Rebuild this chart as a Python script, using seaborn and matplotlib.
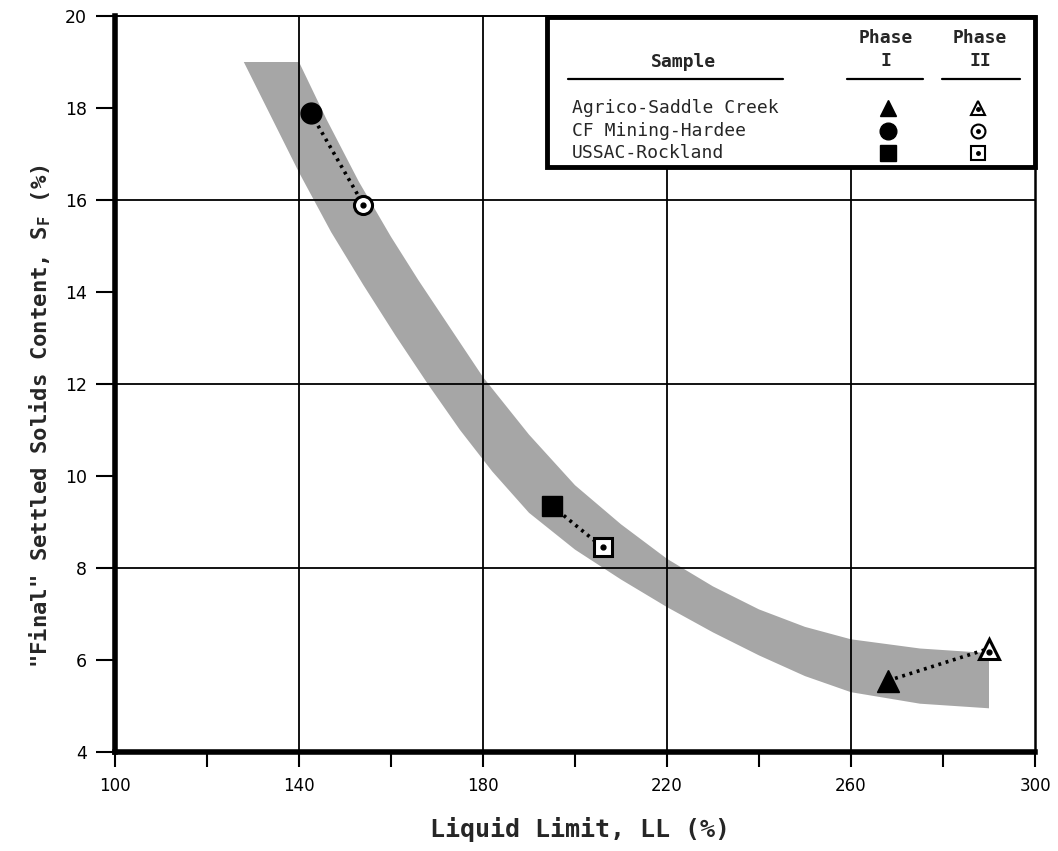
import numpy as np
import pandas as pd
import matplotlib
matplotlib.use("Agg")
import matplotlib.pyplot as plt
import seaborn as sns
from matplotlib.patches import Rectangle, Polygon

# ---------------- data ----------------
samples = ["Agrico-Saddle Creek", "CF Mining-Hardee", "USSAC-Rockland"]
ll_phase1 = [268.0, 142.5, 195.0]
sf_phase1 = [5.55, 17.9, 9.35]
ll_phase2 = [290.0, 154.0, 206.0]
sf_phase2 = [6.25, 15.9, 8.45]
sample_markers = ["^", "o", "s"]

# shaded trend band (lower/left edge and upper/right edge)
band_lower_ll = [128, 134, 140, 147, 154, 161, 168, 175, 182, 190, 200, 210, 220, 230, 240, 250, 260, 275, 290]
band_lower_sf = [19.0, 17.8, 16.6, 15.3, 14.15, 13.05, 12.0, 11.0, 10.1, 9.2, 8.4, 7.75, 7.15, 6.6, 6.1, 5.65, 5.3, 5.05, 4.95]
band_upper_ll = [140, 146, 153, 160, 166, 173, 180, 190, 200, 210, 220, 230, 240, 250, 260, 275, 290]
band_upper_sf = [19.0, 17.75, 16.4, 15.2, 14.25, 13.2, 12.15, 10.9, 9.8, 8.95, 8.2, 7.6, 7.1, 6.72, 6.45, 6.25, 6.15]

x_major = [100, 140, 180, 220, 260, 300]
x_minor = [120, 160, 200, 240, 280]
y_ticks = [4, 6, 8, 10, 12, 14, 16, 18, 20]
x_grid = [140, 180, 220, 260]
y_grid = [8, 12, 16]

df = pd.DataFrame({
    "sample": samples * 2,
    "phase": ["I"] * 3 + ["II"] * 3,
    "LL": ll_phase1 + ll_phase2,
    "SF": sf_phase1 + sf_phase2,
})

# ---------------- style ----------------
sns.set_theme(style="white")
plt.rcParams["font.family"] = ["DejaVu Sans"]
plt.rcParams["mathtext.fontset"] = "custom"
plt.rcParams["mathtext.rm"] = "DejaVu Sans Mono:bold"
plt.rcParams["mathtext.bf"] = "DejaVu Sans Mono:bold"
plt.rcParams["mathtext.it"] = "DejaVu Sans Mono:bold"

W, H = 1058, 851
fig = plt.figure(figsize=(W / 100, H / 100), dpi=100)
fig.patch.set_facecolor("white")
L, R, T, B = 115, 1035, 16, 752
ax = fig.add_axes([L / W, 1 - B / H, (R - L) / W, (B - T) / H])
ax.set_facecolor("white")

# band
verts = list(zip(band_lower_ll, band_lower_sf)) + list(zip(band_upper_ll[::-1], band_upper_sf[::-1]))
ax.add_patch(Polygon(verts, closed=True, facecolor="#a6a6a6", edgecolor="none", zorder=1))

# grid
for v in x_grid:
    ax.axvline(v, color="black", lw=1.3, zorder=2)
for h in y_grid:
    ax.axhline(h, color="black", lw=1.3, zorder=2)

# connectors
sns.lineplot(data=df, x="LL", y="SF", units="sample", estimator=None, sort=False,
             color="black", lw=2.6, linestyle=(0, (0.8, 1.3)), legend=False, ax=ax, zorder=3)

# markers
for i in range(len(samples)):
    m = sample_markers[i]
    ms = 16 if m == "^" else 15
    ax.plot(ll_phase1[i], sf_phase1[i], marker=m, ms=ms, color="black", ls="none", zorder=5)
    ax.plot(ll_phase2[i], sf_phase2[i], marker=m, ms=ms - 2, mfc="white", mec="black", mew=2.2,
            ls="none", zorder=5)
    ax.plot(ll_phase2[i], sf_phase2[i] - (0.08 if m == "^" else 0), marker="o", ms=3.5,
            color="black", ls="none", zorder=6)

ax.set_xlim(100, 300)
ax.set_ylim(4, 20)
ax.set_xticks(x_major)
ax.set_xticks(x_minor, minor=True)
ax.set_yticks(y_ticks)
ax.set_xticklabels([str(v) for v in x_major])
ax.set_yticklabels([str(v) for v in y_ticks])
ax.tick_params(axis="x", which="both", direction="out", length=11, width=1.5, color="black",
               bottom=True, labelsize=12, pad=7, labelcolor="black")
ax.tick_params(axis="y", which="both", direction="out", length=14, width=1.5, color="black",
               left=True, labelsize=12.5, pad=6, labelcolor="black")
ax.set_xlabel("")
ax.set_ylabel("")

for s, lw in [("left", 4.0), ("bottom", 4.0), ("top", 1.4), ("right", 1.8)]:
    ax.spines[s].set_visible(True)
    ax.spines[s].set_color("black")
    ax.spines[s].set_linewidth(lw)

# axis titles
fig.text(580 / W, 1 - 830 / H, "Liquid Limit, LL (%)", ha="center", va="center",
         fontsize=18, fontweight="bold", family="DejaVu Sans Mono")
fig.text(40 / W, 1 - 416 / H, '"Final" Settled Solids Content, S$_\\mathbf{F}$ (%)',
         ha="center", va="center", rotation=90, fontsize=16, fontweight="bold",
         family="DejaVu Sans Mono")

# legend box
def ax_x(px):
    return (px - L) / (R - L)

def ax_y(py):
    return (B - py) / (B - T)

ax.add_patch(Rectangle((ax_x(547), ax_y(167)), ax_x(1035) - ax_x(547), ax_y(17) - ax_y(167),
                       transform=ax.transAxes, facecolor="white", edgecolor="black", lw=3.5,
                       zorder=10, clip_on=False))
mono = "DejaVu Sans Mono"
ax.text(ax_x(683), ax_y(62), "Sample", transform=ax.transAxes, ha="center", va="center",
        fontsize=13, fontweight="bold", family=mono, zorder=11)
ax.text(ax_x(886), ax_y(38), "Phase", transform=ax.transAxes, ha="center", va="center",
        fontsize=13, fontweight="bold", family=mono, zorder=11)
ax.text(ax_x(886), ax_y(61), "I", transform=ax.transAxes, ha="center", va="center",
        fontsize=13, fontweight="bold", family=mono, zorder=11)
ax.text(ax_x(980), ax_y(38), "Phase", transform=ax.transAxes, ha="center", va="center",
        fontsize=13, fontweight="bold", family=mono, zorder=11)
ax.text(ax_x(980), ax_y(61), "II", transform=ax.transAxes, ha="center", va="center",
        fontsize=13, fontweight="bold", family=mono, zorder=11)
for x0, x1 in [(568, 783), (847, 923), (942, 1020)]:
    ax.plot([ax_x(x0), ax_x(x1)], [ax_y(79), ax_y(79)], transform=ax.transAxes, color="black",
            lw=1.6, zorder=11, clip_on=False)
row_y = [108, 131, 153]
for i, name in enumerate(samples):
    ax.text(ax_x(572), ax_y(row_y[i]), name, transform=ax.transAxes, ha="left", va="center",
            fontsize=13, family=mono, zorder=11)
    m = sample_markers[i]
    ax.plot(ax_x(888), ax_y(row_y[i]), marker=m, ms=12, color="black", transform=ax.transAxes,
            zorder=12, clip_on=False)
    ax.plot(ax_x(978), ax_y(row_y[i]), marker=m, ms=10, mfc="white", mec="black", mew=1.5,
            transform=ax.transAxes, zorder=12, clip_on=False)
    ax.plot(ax_x(978), ax_y(row_y[i] + (1 if m == "^" else 0)), marker="o", ms=2.5, color="black",
            transform=ax.transAxes, zorder=13, clip_on=False)

fig.savefig("out.png", dpi=100, facecolor="white")
